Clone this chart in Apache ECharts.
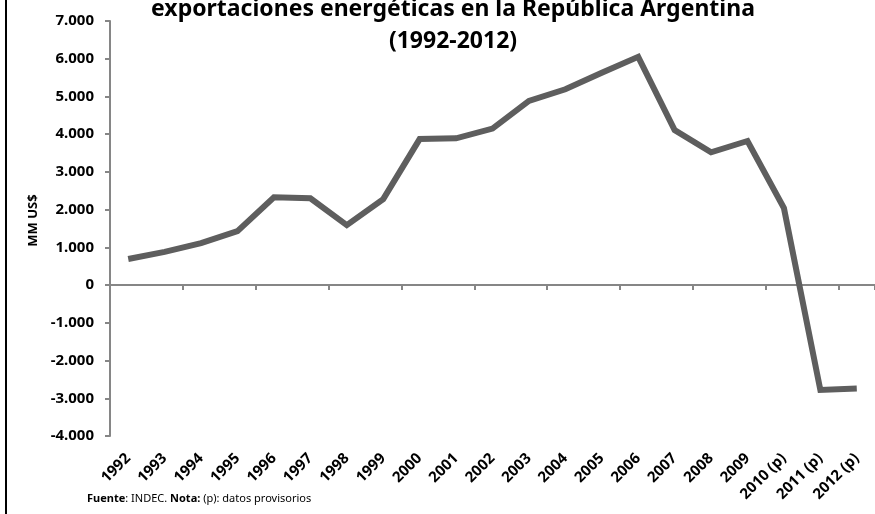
<!DOCTYPE html>
<html>
<head>
<meta charset="utf-8">
<script src="https://cdn.jsdelivr.net/npm/echarts@6/dist/echarts.min.js"></script>
<style>
  html, body { margin: 0; padding: 0; background: #fff; }
  #chart { width: 875px; height: 514px; }
  #frame { position: absolute; left: 5px; top: 0; width: 2px; height: 514px; background: #000; }
</style>
</head>
<body>
<div id="chart"></div>
<div id="frame"></div>
<script>
// Saldo de exportaciones energéticas, millones de US$
const years = ['1992', '1993', '1994', '1995', '1996', '1997', '1998', '1999', '2000', '2001',
  '2002', '2003', '2004', '2005', '2006', '2007', '2008', '2009', '2010 (p)', '2011 (p)', '2012 (p)'];
const saldo = [690, 880, 1110, 1430, 2330, 2300, 1590, 2280, 3870, 3890,
  4150, 4880, 5190, 5630, 6050, 4110, 3520, 3820, 2040, -2780, -2740];
const yMin = -4000, yMax = 7000, yStep = 1000;

const FONT = '"Noto Sans", "Open Sans", sans-serif';
const chart = echarts.init(document.getElementById('chart'));

function thousands(v) {
  const s = Math.abs(v).toString().replace(/\B(?=(\d{3})+(?!\d))/g, '.');
  return (v < 0 ? '-' : '') + s;
}

chart.setOption({
  animation: false,
  title: {
    text: 'exportaciones energéticas en la República Argentina\n(1992-2012)',
    left: 448,
    textAlign: 'center',
    top: -12,
    textStyle: { fontFamily: FONT, fontSize: 23, fontWeight: 'bold', color: '#000', lineHeight: 32 }
  },
  grid: { left: 110, right: -1, top: 21, bottom: 78 },
  xAxis: [
    {
      type: 'category',
      data: years,
      boundaryGap: true,
      axisLine: { onZero: true, lineStyle: { color: '#868686', width: 2 } },
      axisTick: { show: true, length: 5, inside: false, lineStyle: { color: '#868686', width: 2 } },
      axisLabel: { show: false },
      splitLine: { show: false }
    },
    {
      type: 'category',
      data: years,
      position: 'bottom',
      boundaryGap: true,
      axisLine: { show: false, onZero: false },
      axisTick: { show: false },
      axisLabel: {
        interval: 0, rotate: 45, margin: 20,
        fontFamily: FONT, fontSize: 15, fontWeight: 'bold', color: '#000'
      },
      splitLine: { show: false }
    }
  ],
  yAxis: {
    type: 'value',
    min: yMin, max: yMax, interval: yStep,
    name: 'MM US$',
    nameLocation: 'middle',
    nameGap: 68,
    nameTextStyle: { fontFamily: FONT, fontSize: 13, fontWeight: 'bold', color: '#000', padding: [0, 0, 0, 16] },
    axisLine: { show: true, lineStyle: { color: '#868686', width: 2 } },
    axisTick: { show: true, length: 5, lineStyle: { color: '#868686', width: 2 } },
    axisLabel: {
      margin: 16, formatter: thousands,
      fontFamily: FONT, fontSize: 15, fontWeight: 'bold', color: '#000'
    },
    splitLine: { show: false }
  },
  graphic: [{
    type: 'text',
    left: 87, top: 493,
    style: {
      text: '{b|Fuente}: INDEC. {b|Nota:} (p): datos provisorios',
      rich: {
        b: { fontFamily: FONT, fontSize: 11, fontWeight: 'bold', fill: '#000' }
      },
      fontFamily: FONT, fontSize: 11, fill: '#000'
    }
  }],
  series: [{
    type: 'line',
    xAxisIndex: 0,
    data: saldo,
    showSymbol: false,
    symbol: 'none',
    lineStyle: { color: '#5e5e5e', width: 6, join: 'miter' },
    clip: false
  }]
});
</script>
</body>
</html>
